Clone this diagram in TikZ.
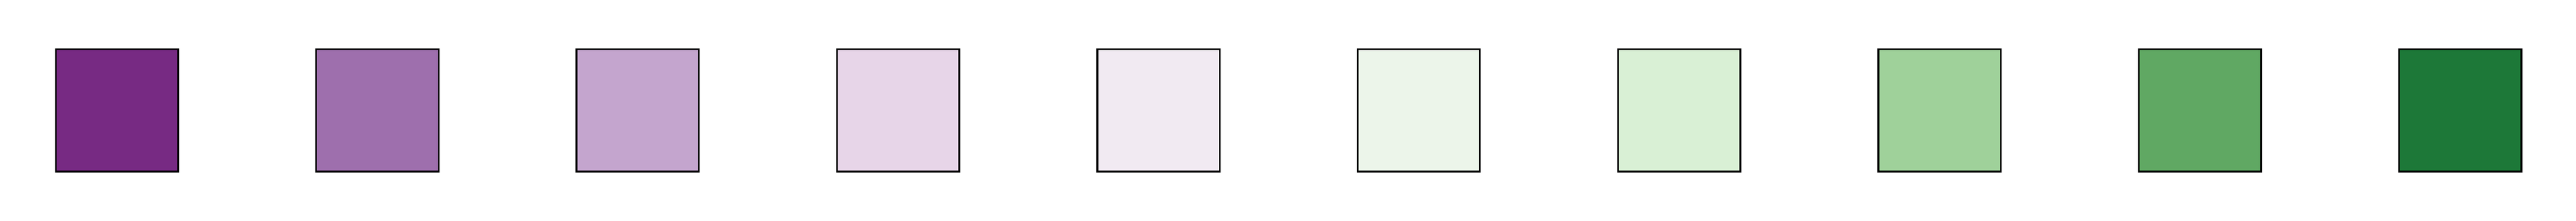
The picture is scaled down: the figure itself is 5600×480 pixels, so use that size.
\documentclass[tikz,border=0pt]{standalone}
\definecolor{cA}{HTML}{772A83}
\definecolor{cB}{HTML}{9E6FAD}
\definecolor{cC}{HTML}{C4A5CE}
\definecolor{cD}{HTML}{E7D5E8}
\definecolor{cE}{HTML}{F1EAF2}
\definecolor{cF}{HTML}{ECF5EA}
\definecolor{cG}{HTML}{D9F0D5}
\definecolor{cH}{HTML}{9FD19A}
\definecolor{cI}{HTML}{60A863}
\definecolor{cJ}{HTML}{1D7838}
\tikzset{swatch/.style={draw=black, line width=0.38pt, minimum width=26.6pt, minimum height=26.6pt, inner sep=0pt, outer sep=0pt}}
\begin{document}
\begin{tikzpicture}[x=0.1pt,y=0.1pt]
\useasboundingbox (0,0) rectangle (5600,480);
\foreach \c [count=\i from 0] in {cA,cB,cC,cD,cE,cF,cG,cH,cI,cJ}{
  \node[swatch, fill=\c] (s\i) at ({254.4+566*\i},240) {};
}
\end{tikzpicture}
\end{document}
